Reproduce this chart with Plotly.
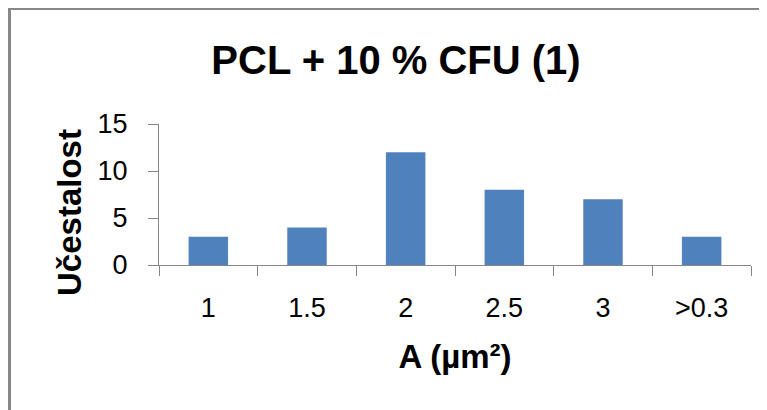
import plotly.graph_objects as go

categories = ["1", "1.5", "2", "2.5", "3", ">0.3"]
counts = [3, 4, 12, 8, 7, 3]
y_ticks = [0, 5, 10, 15]

title_text = "PCL + 10 % CFU (1)"
x_title = "A (µm²)"
y_title = "Učestalost"

# the page body has an 8px margin; figure pixel = screen pixel - 8
OFF = 8
W, H = 767 - OFF, 410 - OFF
L, R, T, B = 159 - OFF, 16, 124 - OFF, 145
pw, ph = W - L - R, H - T - B

def px_x(X):
    return (X - OFF - L) / pw

def px_y(Y):
    return (H - B - (Y - OFF)) / ph

axis_color = "#868686"
font_reg = "Liberation Sans, Arial, sans-serif"
font_bold = "Liberation Sans, Arial, sans-serif"

fig = go.Figure(go.Bar(
    x=categories, y=counts,
    marker=dict(color="#4F81BD", line=dict(width=0)),
    width=0.4,
))

fig.update_layout(
    width=W, height=H,
    margin=dict(l=L, r=R, t=T, b=B),
    paper_bgcolor="white", plot_bgcolor="white",
    showlegend=False,
    title=dict(
        text=f"<b>{title_text}</b>",
        font=dict(family=font_bold, size=40, color="black"),
        x=(396 - OFF) / W, xref="container", xanchor="center",
        y=1 - (60 - OFF) / H, yref="container", yanchor="middle",
    ),
    xaxis=dict(
        type="category",
        showline=True, linecolor=axis_color, linewidth=1,
        ticks="outside", ticklen=10, tickcolor=axis_color, tickwidth=1,
        tickson="boundaries",
        showgrid=False, zeroline=False,
        tickfont=dict(family=font_reg, size=27, color="black"),
        ticklabelstandoff=19,
        title=dict(text=f"<b>{x_title}</b>", font=dict(family=font_bold, size=33, color="black"), standoff=22),
    ),
    yaxis=dict(
        range=[0, 15],
        tickvals=y_ticks,
        showline=True, linecolor=axis_color, linewidth=1,
        ticks="outside", ticklen=10, tickcolor=axis_color, tickwidth=1,
        showgrid=False, zeroline=False,
        tickfont=dict(family=font_reg, size=27, color="black"),
        ticklabelstandoff=15,
    ),
    annotations=[dict(
        text=f"<b>{y_title}</b>", textangle=-90,
        xref="paper", yref="paper", x=px_x(69), y=px_y(213),
        xanchor="center", yanchor="middle", showarrow=False,
        font=dict(family=font_bold, size=33, color="black"),
    )],
    shapes=[dict(
        type="rect", xref="paper", yref="paper",
        x0=px_x(9.5), x1=px_x(830), y0=px_y(470), y1=px_y(8.5),
        line=dict(color="#878787", width=3), fillcolor="rgba(0,0,0,0)",
        layer="below",
    )],
)

fig.write_html("out.html")
